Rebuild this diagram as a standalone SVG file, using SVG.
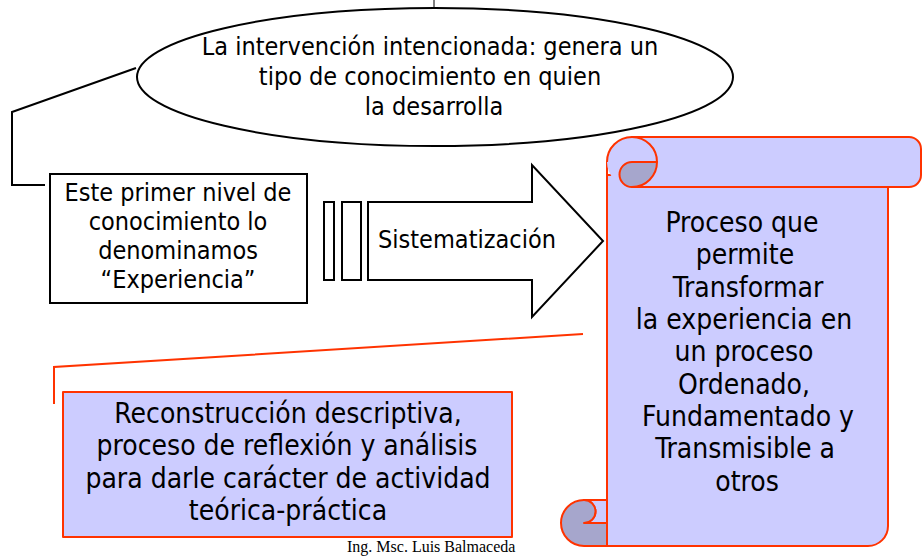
<svg xmlns="http://www.w3.org/2000/svg" width="922" height="558" viewBox="0 0 922 558">
<style>
.t{font-family:"DejaVu Sans Condensed","DejaVu Sans",sans-serif;fill:#000;text-anchor:middle}
.s{font-size:25px}
.L{font-size:28px}
.blk{fill:#fff;stroke:#000;stroke-width:2}
.red{stroke:#ff3300;stroke-width:2;stroke-linejoin:round}
.lite{fill:#ccccff}
.dark{fill:#a6a6cc}
.conn{fill:none;stroke-width:2}
</style>
<rect width="922" height="558" fill="#fff"/>
<g id="connectors">
<line x1="434" y1="0" x2="434" y2="8" stroke="#000" stroke-width="1"/>
<polyline class="conn" stroke="#000" points="136,68 12,112 12,185 45,185"/>
<polyline class="conn" stroke="#ff3300" points="583,334 54,367 54,404"/>
</g>
<g id="ellipse-node">
<ellipse class="blk" cx="435" cy="77" rx="298" ry="69"/>
<text class="t s"><tspan x="430" y="55">La intervención intencionada: genera  un</tspan><tspan x="430" y="85">tipo de conocimiento en quien</tspan><tspan x="434" y="115">la desarrolla</tspan></text>
</g>
<g id="experiencia-node">
<rect class="blk" x="50" y="174" width="257" height="129"/>
<text class="t s"><tspan x="178" y="201">Este primer nivel de</tspan><tspan x="178" y="230">conocimiento lo</tspan><tspan x="178" y="259">denominamos</tspan><tspan x="178" y="288">“Experiencia”</tspan></text>
</g>
<g id="sistematizacion-arrow">
<rect class="blk" x="324" y="202" width="10" height="78"/>
<rect class="blk" x="342" y="202" width="19" height="78"/>
<polygon class="blk" points="368,202 532,202 532,165 603,241 532,317 532,280 368,280"/>
<text class="t s" x="467" y="248">Sistematización</text>
</g>
<g id="scroll-node">
<path class="lite red" d="M607,162 V546 H868 A20 20 0 0 0 888,526 V175 H607 Z"/>
<path class="lite red" d="M632,137 H909 A12 12 0 0 1 921,149 V175 A12 12 0 0 1 909,187 H632 Z"/>
<circle class="lite" cx="632" cy="162" r="25"/>
<path class="red" fill="none" d="M607,162 A25 25 0 0 1 657,162"/>
<path class="dark red" d="M657,162 A25 25 0 0 1 632,187 A12.5 12.5 0 0 1 632,162 Z"/>
<path class="lite red" d="M584,500 H607 V523 H584 A11.5 11.5 0 0 0 584,500 Z"/>
<path class="dark red" d="M584,500 A11.5 11.5 0 0 1 584,523 H607 V546 H584 A23 23 0 0 1 584,500 Z"/>
<text class="t L"><tspan x="742" y="232">Proceso que</tspan><tspan x="745" y="264">permite</tspan><tspan x="748" y="297">Transformar</tspan><tspan x="744" y="329">la experiencia en</tspan><tspan x="744" y="361">un proceso</tspan><tspan x="744" y="394">Ordenado,</tspan><tspan x="748" y="426">Fundamentado y</tspan><tspan x="745" y="458">Transmisible a</tspan><tspan x="747" y="491">otros</tspan></text>
</g>
<g id="reconstruccion-node">
<rect class="lite red" x="63" y="392" width="449" height="145"/>
<text class="t L"><tspan x="288" y="423">Reconstrucción descriptiva,</tspan><tspan x="287" y="455">proceso de reflexión y análisis</tspan><tspan x="288" y="488">para darle carácter de actividad</tspan><tspan x="288" y="520">teórica-práctica</tspan></text>
</g>
<g id="footer">
<text x="347" y="552" font-family="Liberation Serif,serif" font-size="16" fill="#000">Ing. Msc. Luis Balmaceda</text>
</g>
</svg>
